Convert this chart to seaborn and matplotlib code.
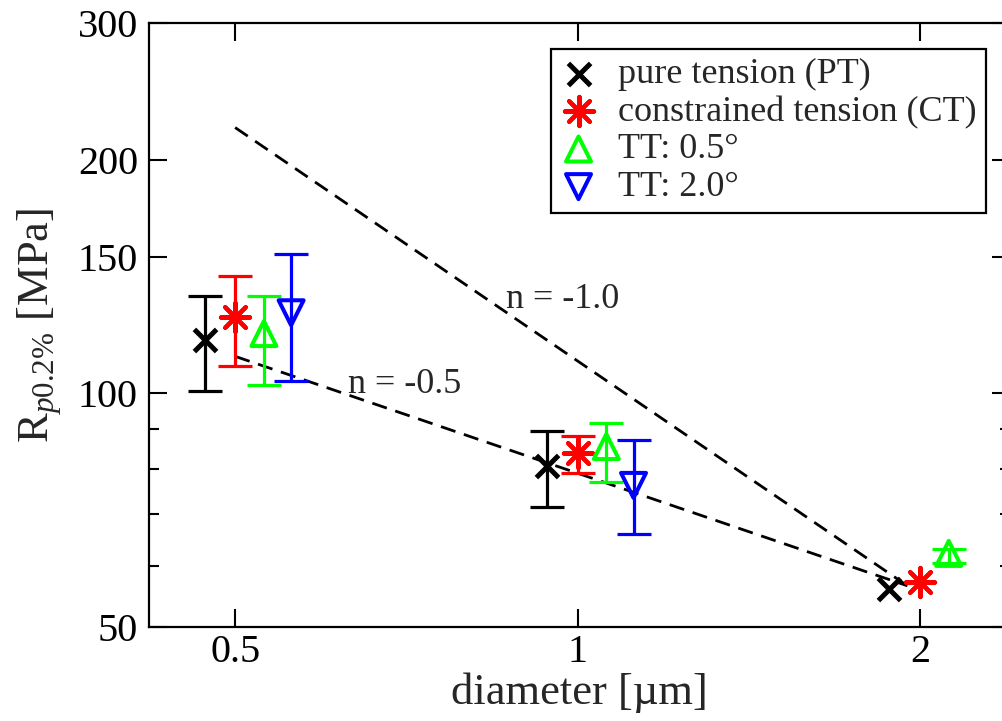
import numpy as np
import matplotlib
matplotlib.use("Agg")
import matplotlib.pyplot as plt
import seaborn as sns

# ---------------- data ----------------
pt_d = [0.47, 0.94, 1.88]
pt_r = [117.0, 80.6, 56.0]
pt_lo = [100.8, 71.3, np.nan]
pt_hi = [133.5, 89.4, np.nan]

ct_d = [0.50, 1.00, 2.00]
ct_r = [125.3, 83.7, 57.2]
ct_lo = [108.5, 79.0, np.nan]
ct_hi = [141.5, 88.0, np.nan]

tt05_d = [0.53, 1.06, 2.12]
tt05_r = [119.4, 85.4, 62.2]
tt05_lo = [102.6, 76.8, 60.4]
tt05_hi = [133.6, 91.7, 63.1]

tt20_d = [0.56, 1.12]
tt20_r = [127.0, 76.1]
tt20_lo = [103.6, 65.9]
tt20_hi = [151.3, 87.2]

line_d = [0.5, 1.95]
line_n10 = [220.0, 56.5]
line_n05 = [111.6, 56.5]

labels = ["pure tension (PT)", "constrained tension (CT)", "TT: 0.5\u00b0", "TT: 2.0\u00b0"]
x_ticks = [0.5, 1, 2]
x_ticklabels = ["0.5", "1", "2"]
y_ticks = [50, 100, 150, 200, 300]
y_minor = [60, 70, 80, 90]

# ---------------- style ----------------
sns.set_theme(style="ticks")
plt.rcParams["font.family"] = ["Liberation Serif", "DejaVu Serif"]
plt.rcParams["mathtext.fontset"] = "custom"
plt.rcParams["mathtext.rm"] = "Liberation Serif"
plt.rcParams["mathtext.it"] = "Liberation Serif:italic"

fig = plt.figure(figsize=(10.02, 7.21), dpi=100)
ax = fig.add_axes([149 / 1002, (721 - 627) / 721, 861 / 1002, 604 / 721])
ax.set_xscale("log")
ax.set_yscale("log")

# dashed reference lines
for yy in (line_n10, line_n05):
    sns.lineplot(x=line_d, y=yy, ax=ax, color="black", lw=2.0,
                 dashes=False, zorder=1).lines[-1].set_dashes((5.5, 3.2))

series = [
    (pt_d, pt_r, pt_lo, pt_hi, "black", "x", 16, 3.6, labels[0], False),
    (ct_d, ct_r, ct_lo, ct_hi, "#ff0000", (8, 2, 0), 21, 3.0, labels[1], False),
    (tt05_d, tt05_r, tt05_lo, tt05_hi, "#00ff00", "^", 18, 2.9, labels[2], True),
    (tt20_d, tt20_r, tt20_lo, tt20_hi, "#0000ff", "v", 18, 2.9, labels[3], True),
]

for d, r, lo, hi, col, mk, ms, lw, lab, filled in series:
    d = np.asarray(d); r = np.asarray(r)
    lo = np.asarray(lo); hi = np.asarray(hi)
    m = ~np.isnan(lo)
    ax.errorbar(d[m], r[m], yerr=[r[m] - lo[m], hi[m] - r[m]], fmt="none",
                ecolor=col, elinewidth=2.3, capsize=12.5, capthick=2.3, zorder=2)
    if filled:
        sns.scatterplot(x=d, y=r, ax=ax, marker=mk, s=ms ** 2, facecolor="none",
                        edgecolor=col, linewidth=lw, label=lab, zorder=3, legend=False)
    else:
        sns.scatterplot(x=d, y=r, ax=ax, marker=mk, s=ms ** 2, color=col,
                        linewidth=lw, label=lab, zorder=3, legend=False)

ax.set_xlim(0.42, 2.4)
ax.set_ylim(50, 300)

ax.set_xticks(x_ticks)
ax.set_xticklabels(x_ticklabels)
ax.xaxis.set_minor_locator(matplotlib.ticker.NullLocator())
ax.set_yticks(y_ticks)
ax.set_yticklabels([str(v) for v in y_ticks])
ax.set_yticks(y_minor, minor=True)
ax.yaxis.set_minor_formatter(matplotlib.ticker.NullFormatter())

ax.tick_params(which="both", direction="in", top=True, right=True, width=1.5,
               colors="black", labelsize=29)
ax.tick_params(which="major", length=13)
ax.tick_params(which="minor", length=7)
ax.tick_params(axis="x", pad=5)
ax.tick_params(axis="y", pad=8)
for sp in ax.spines.values():
    sp.set_linewidth(1.6)
    sp.set_color("black")
    sp.set_visible(True)

ax.set_xlabel("diameter [\u00b5m]", fontsize=32, labelpad=1)
ax.set_ylabel(r"R$_{\mathit{p0.2\%}}$ [MPa]", fontsize=32, labelpad=10)

ax.text(0.866, 128.7, "n = -1.0", fontsize=26, ha="left", va="baseline")
ax.text(0.628, 100.0, "n = -0.5", fontsize=26, ha="left", va="baseline")

leg = ax.legend(loc="upper right", bbox_to_anchor=(0.972, 0.957), borderaxespad=0,
                fontsize=26, frameon=True, fancybox=False, framealpha=1,
                edgecolor="black", handlelength=1.0, handletextpad=0.6,
                borderpad=0.25, labelspacing=0.12, markerscale=1.0)
leg.get_frame().set_linewidth(1.6)

fig.savefig("out.png", dpi=100)
